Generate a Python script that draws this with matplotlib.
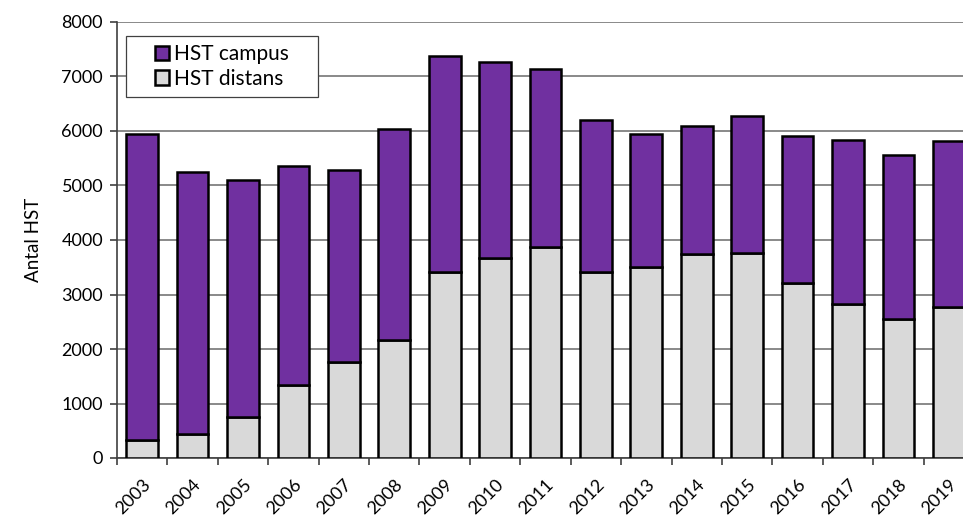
import matplotlib

matplotlib.use("Agg")

import matplotlib.pyplot as plt
import numpy as np
from matplotlib.patches import Rectangle
from matplotlib.ticker import MultipleLocator

plt.rcParams["font.family"] = ["Lato", "DejaVu Sans"]

YEARS = [str(y) for y in range(2003, 2020)]
TOTAL = [5940, 5250, 5100, 5350, 5285, 6030, 7380, 7260, 7140,
         6210, 5950, 6090, 6270, 5915, 5830, 5565, 5815]
DISTANS = [330, 445, 745, 1340, 1755, 2165, 3420, 3670, 3875,
           3410, 3500, 3745, 3755, 3205, 2820, 2550, 2775]
CAMPUS = [t - d for t, d in zip(TOTAL, DISTANS)]

PURPLE = "#7030A0"
GREY = "#D9D9D9"


def main():
    fig = plt.figure(figsize=(9.63, 5.15), dpi=100)
    # axis runs a bit past the right edge, as in the original
    ax = fig.add_axes([117 / 963, 1 - 458 / 515, 857 / 963, 436 / 515])

    x = np.arange(len(YEARS))
    ax.bar(x, DISTANS, width=0.63, color=GREY, edgecolor="black",
           linewidth=1.8, label="HST distans", zorder=3)
    ax.bar(x, CAMPUS, width=0.63, bottom=DISTANS, color=PURPLE,
           edgecolor="black", linewidth=1.8, label="HST campus", zorder=3)

    ax.set_xlim(-0.5, len(YEARS) - 0.5)
    ax.set_ylim(0, 8000)
    ax.yaxis.set_major_locator(MultipleLocator(1000))
    ax.grid(True, axis="y", color="#808080", linewidth=1.3, zorder=0)

    for side in ["top", "right"]:
        ax.spines[side].set_visible(False)
    ax.spines["left"].set_color("#404040")
    ax.spines["left"].set_linewidth(1.2)
    ax.spines["bottom"].set_color("#404040")
    ax.spines["bottom"].set_linewidth(1.2)

    ax.set_xticks(x)
    ax.set_xticklabels(YEARS, rotation=45, ha="right", rotation_mode="anchor",
                       fontsize=13)
    ax.set_xticks(np.arange(-0.5, len(YEARS), 1), minor=True)
    ax.tick_params(axis="x", which="major", length=0, pad=13)
    ax.tick_params(axis="x", which="minor", length=5, width=1.2, color="#404040")
    ax.tick_params(axis="y", length=5, width=1.2, color="#404040",
                   labelsize=13, pad=5)

    ax.set_ylabel("Antal HST", fontsize=13.5, labelpad=14)

    # Excel-style legend box, wider than the entries
    box = Rectangle((0.0105, 0.828), 0.224, 0.14, transform=ax.transAxes,
                    facecolor="white", edgecolor="#404040", linewidth=0.9,
                    zorder=5)
    ax.add_patch(box)
    handles, labels = ax.get_legend_handles_labels()
    leg = ax.legend(handles[::-1], labels[::-1], loc="center",
                    bbox_to_anchor=(0.1225, 0.898), borderaxespad=0,
                    fontsize=15, handlelength=0.7, handleheight=0.7,
                    handletextpad=0.25, borderpad=0.2, labelspacing=0.2,
                    frameon=False)
    leg.set_zorder(6)

    fig.savefig("out.png", dpi=100)
    plt.close(fig)


if __name__ == "__main__":
    main()
